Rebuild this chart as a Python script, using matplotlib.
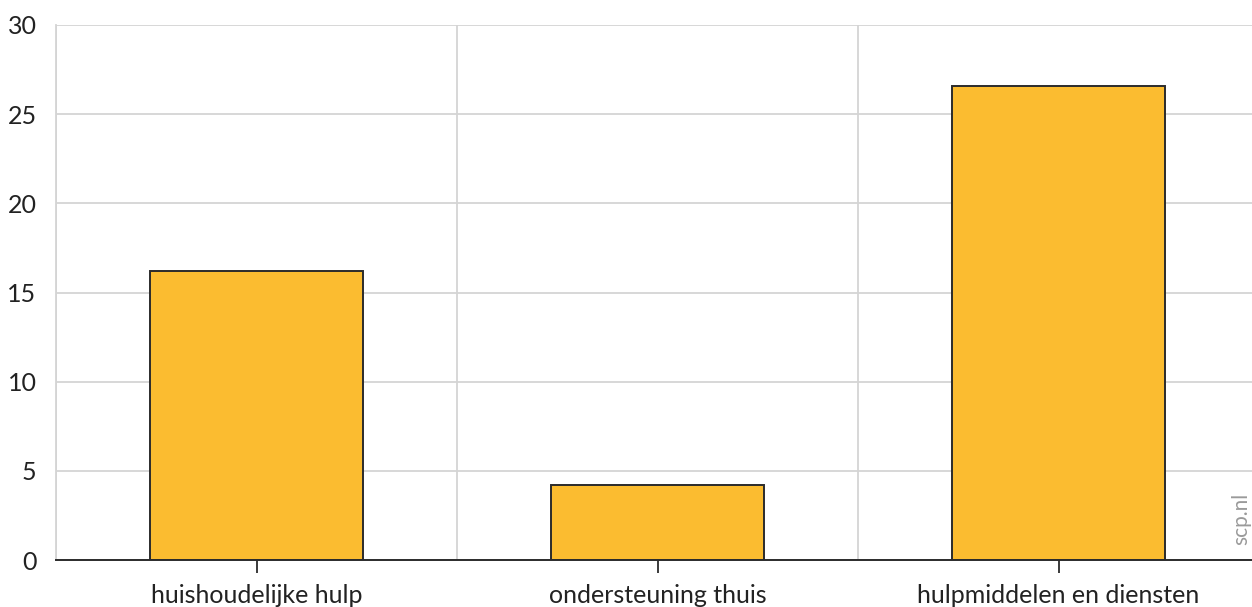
import matplotlib.pyplot as plt
from matplotlib.ticker import MultipleLocator

categories = ['huishoudelijke hulp', 'ondersteuning thuis', 'hulpmiddelen en diensten']
values = [16.2, 4.2, 26.6]
y_ticks = [0, 5, 10, 15, 20, 25, 30]

W, H = 1252, 607
fig = plt.figure(figsize=(W / 100, H / 100), dpi=100)
ax = fig.add_axes([56 / W, 47 / H, 1203 / W, 535 / H])

x = range(len(categories))
ax.bar(x, values, width=0.53, color='#fbbc30', edgecolor='#2b2b2b', linewidth=1.4, zorder=3)

ax.set_xlim(-0.5, len(categories) - 0.5)
ax.set_ylim(0, 30)
ax.set_yticks(y_ticks)
ax.set_xticks(list(x))
ax.set_xticklabels(categories)
ax.xaxis.set_minor_locator(MultipleLocator(1, offset=0.5))

ax.grid(axis='y', color='#d4d4d4', linewidth=1.3, zorder=0)
ax.grid(axis='x', which='minor', color='#d4d4d4', linewidth=1.3, zorder=0)

for s in ['top', 'right']:
    ax.spines[s].set_visible(False)
ax.spines['left'].set_color('#d4d4d4')
ax.spines['left'].set_linewidth(1.3)
ax.spines['bottom'].set_color('#2b2b2b')
ax.spines['bottom'].set_linewidth(1.4)
ax.spines['bottom'].set_zorder(4)

ax.tick_params(axis='y', length=0, pad=14, labelsize=18, labelcolor='#222222')
ax.tick_params(axis='x', which='major', length=9, width=1.3, color='#2b2b2b',
               pad=8, labelsize=18, labelcolor='#222222')
ax.tick_params(axis='x', which='minor', length=0)
for lab in ax.get_xticklabels() + ax.get_yticklabels():
    lab.set_family(['Lato', 'DejaVu Sans'])

fig.text(1241 / W, 1 - 519 / H, 'scp.nl', rotation=90, ha='center', va='center',
         fontsize=15, color='#9a9a9a', family=['Lato', 'DejaVu Sans'])

fig.savefig('out.png', dpi=100)
